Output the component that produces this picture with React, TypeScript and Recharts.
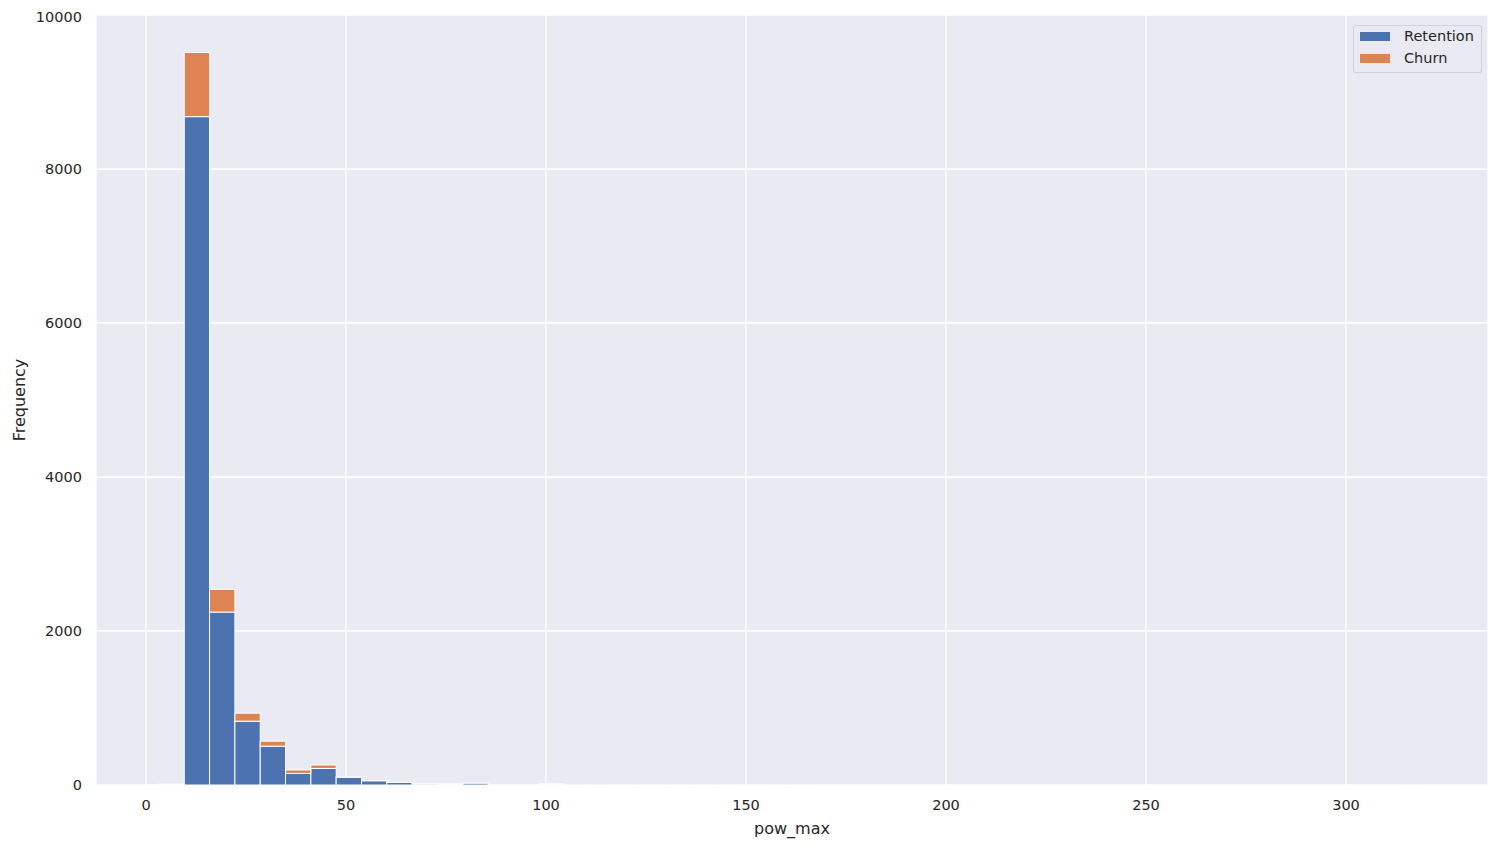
import React from 'react';
import { ComposedChart, Bar, XAxis, YAxis, CartesianGrid, Legend, Label } from 'recharts';

// Histogram bins of pow_max (50 bins from binStart, width binWidth)
const binStart = 3.3;
const binWidth = 6.33;
const retention = [
  8, 8680, 2246, 829, 504, 150, 215, 100, 55, 33,
  15, 12, 25, 5, 5, 12, 2, 2, 1, 1,
  1, 1, 1, 5, 1, 1, 0, 0, 0, 0,
  0, 0, 0, 0, 0, 0, 0, 0, 0, 0,
  0, 0, 0, 0, 0, 0, 0, 0, 0, 1,
];
const churn = [
  2, 833, 295, 104, 65, 45, 45, 5, 3, 2,
  1, 1, 2, 0, 0, 1, 0, 0, 0, 0,
  0, 0, 0, 0, 0, 0, 0, 0, 0, 0,
  0, 0, 0, 0, 0, 0, 0, 0, 0, 0,
  0, 0, 0, 0, 0, 0, 0, 0, 0, 0,
];
const xTicks = [0, 50, 100, 150, 200, 250, 300];
const yTicks = [0, 2000, 4000, 6000, 8000, 10000];
const seriesNames = ['Retention', 'Churn'];
const colors = ['#4C72B0', '#DD8452'];

const data = retention.map((r, i) => ({
  x: binStart + binWidth * (i + 0.5),
  Retention: r,
  Churn: churn[i],
}));

const FONT = '"DejaVu Sans", sans-serif';
const TEXT = '#262626';

const W = 1491;
const H = 831;
const xDomain: [number, number] = [-12.5, 335.5];
const plotW = W - 88 - 11;
const barPx = (binWidth * plotW) / (xDomain[1] - xDomain[0]);

// Draw each histogram rectangle with the full bin width, centred on the bin
const HistRect = (props: any) => {
  const { x, y, width, height, fill } = props;
  if (x == null || y == null || !isFinite(height)) return <g />;
  const cx = x + width / 2;
  return (
    <rect
      x={cx - barPx / 2}
      y={y}
      width={barPx}
      height={Math.max(height, 0)}
      fill={fill}
      stroke="#FFFFFF"
      strokeWidth={1}
    />
  );
};

const LegendBox = () => (
  <div
    style={{
      position: 'relative',
      width: 129,
      height: 48,
      boxSizing: 'border-box',
      background: 'rgba(234,234,242,0.8)',
      border: '1px solid rgba(204,204,204,0.8)',
      borderRadius: 3,
      fontFamily: FONT,
      fontSize: 14.5,
      color: TEXT,
    }}
  >
    {seriesNames.map((n, i) => (
      <React.Fragment key={n}>
        <div
          style={{
            position: 'absolute',
            left: 6,
            top: 6 + i * 22,
            width: 30,
            height: 9,
            background: colors[i],
          }}
        />
        <div
          style={{
            position: 'absolute',
            left: 50,
            top: 1 + i * 22,
            lineHeight: '18px',
            whiteSpace: 'nowrap',
          }}
        >
          {n}
        </div>
      </React.Fragment>
    ))}
  </div>
);

export default function App() {
  return (
    <ComposedChart
      width={W}
      height={H}
      data={data}
      margin={{ top: 7, right: 11, bottom: 0, left: 0 }}
      barGap={0}
      barCategoryGap={0}
      style={{ fontFamily: FONT }}
    >
      <CartesianGrid fill="#EAEAF2" stroke="#FFFFFF" strokeWidth={1.3} />
      <XAxis
        dataKey="x"
        type="number"
        domain={xDomain}
        ticks={xTicks}
        allowDataOverflow
        axisLine={false}
        tickLine={false}
        tickSize={0}
        tickMargin={15}
        height={54}
        tick={{ fill: TEXT, fontSize: 14.5, fontFamily: FONT }}
      >
        <Label
          content={(props: any) => {
            const vb = props.viewBox || {};
            return (
              <text
                x={vb.x + vb.width / 2}
                y={vb.y + 49}
                textAnchor="middle"
                fill={TEXT}
                fontSize={16}
                fontFamily={FONT}
              >
                pow_max
              </text>
            );
          }}
        />
      </XAxis>
      <YAxis
        type="number"
        domain={[0, 10000]}
        ticks={yTicks}
        allowDataOverflow
        axisLine={false}
        tickLine={false}
        tickSize={0}
        tickMargin={14}
        width={88}
        tick={{ fill: TEXT, fontSize: 14.5, fontFamily: FONT }}
      >
        <Label
          content={(props: any) => {
            const vb = props.viewBox || {};
            const cx = 11;
            const cy = vb.y + vb.height / 2;
            return (
              <text
                x={cx}
                y={cy}
                transform={`rotate(-90, ${cx}, ${cy})`}
                textAnchor="middle"
                dominantBaseline="central"
                fill={TEXT}
                fontSize={16}
                fontFamily={FONT}
              >
                Frequency
              </text>
            );
          }}
        />
      </YAxis>
      <Legend
        layout="horizontal"
        verticalAlign="middle"
        align="center"
        content={() => <LegendBox />}
        wrapperStyle={{ position: 'absolute', left: 1345, top: 17, width: 129, height: 48 }}
      />
      <Bar
        dataKey="Retention"
        stackId="a"
        fill={colors[0]}
        barSize={barPx}
        shape={HistRect}
        isAnimationActive={false}
      />
      <Bar
        dataKey="Churn"
        stackId="a"
        fill={colors[1]}
        barSize={barPx}
        shape={HistRect}
        isAnimationActive={false}
      />
    </ComposedChart>
  );
}
